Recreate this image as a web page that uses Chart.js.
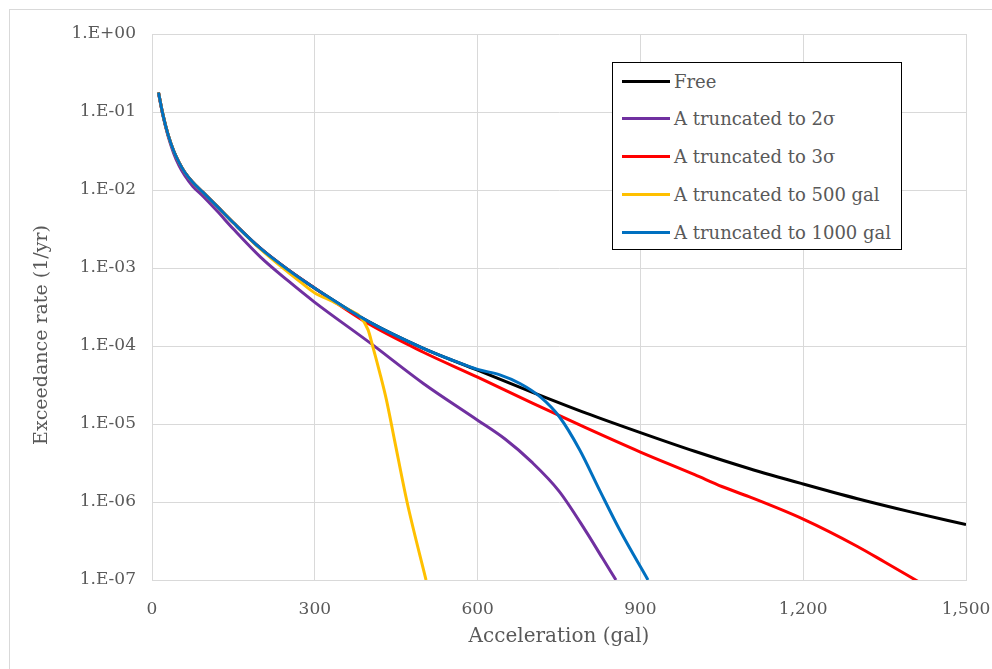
<!DOCTYPE html>
<html>
<head>
<meta charset="utf-8">
<script src="https://cdn.jsdelivr.net/npm/chart.js@4.4.1/dist/chart.umd.min.js"></script>
<style>
  html, body { margin: 0; padding: 0; background: #fff; overflow: hidden; }
  #wrap { position: relative; width: 992px; height: 669px; overflow: hidden; }
  #frame { position: absolute; left: 9px; top: 9px; width: 1100px; height: 800px; border: 1px solid #d9d9d9; }
  #chart { position: absolute; left: 0; top: 0; }
  #legend { position: absolute; left: 612px; top: 62px; width: 290px; height: 188px; border: 1px solid #000;
            background: #fff; box-sizing: border-box; font-family: 'DejaVu Serif'; font-size: 18px; color: #595959; }
  .row { position: absolute; left: 0; height: 24px; margin-top: -12px; display: flex; align-items: center; white-space: nowrap; }
  .swatch { width: 48px; height: 3px; margin-left: 9px; margin-right: 4px; }
</style>
</head>
<body>
<div id="wrap">
  <div id="frame"></div>
  <canvas id="chart" width="992" height="669"></canvas>
  <div id="legend"></div>
</div>
<script>
// Series names / colours (legend order, same as Excel)
const seriesNames = ['Free', 'A truncated to 2σ', 'A truncated to 3σ', 'A truncated to 500 gal', 'A truncated to 1000 gal'];
const seriesColors = ['#000000', '#7030A0', '#FF0000', '#FFC000', '#0070C0'];

// Axis ticks
const accelTicks = [0, 300, 600, 900, 1200, 1500];
const rateTicks = [1, 1e-1, 1e-2, 1e-3, 1e-4, 1e-5, 1e-6, 1e-7];
const rateTickLabels = ['1.E+00', '1.E-01', '1.E-02', '1.E-03', '1.E-04', '1.E-05', '1.E-06', '1.E-07'];
const xTitle = 'Acceleration (gal)';
const yTitle = 'Exceedance rate (1/yr)';

// Free
const accelFree = [12, 20, 30, 40, 50, 60, 75, 94, 120, 150, 200, 250, 300, 400, 500, 600, 700, 800, 900, 1000,
                   1100, 1200, 1300, 1400, 1500];
const rateFree = [0.178, 0.0933, 0.0501, 0.0316, 0.0224, 0.017, 0.0126, 0.00933, 0.00617, 0.0038, 0.00178, 9.55e-4,
                  5.5e-4, 2.04e-4, 9.33e-5, 4.9e-5, 2.57e-5, 1.38e-5, 7.76e-6, 4.47e-6, 2.69e-6, 1.7e-6, 1.1e-6,
                  7.41e-7, 5.13e-7];

// A truncated to 2 sigma
const accel2s = [12, 20, 30, 40, 50, 60, 75, 94, 120, 150, 200, 250, 300, 400, 500, 600, 650, 700, 750, 800, 830, 855];
const rate2s = [0.174, 0.0912, 0.0479, 0.0295, 0.0204, 0.0155, 0.0112, 0.00832, 0.00537, 0.00316, 0.00138, 6.92e-4,
                3.63e-4, 1.12e-4, 3.31e-5, 1.12e-5, 6.46e-6, 3.24e-6, 1.38e-6, 4.17e-7, 1.91e-7, 1.0e-7];

// A truncated to 3 sigma
const accel3s = [12, 20, 30, 40, 50, 60, 75, 94, 120, 150, 200, 250, 300, 400, 500, 600, 700, 800, 900, 1000,
                 1050, 1100, 1200, 1300, 1350, 1412];
const rate3s = [0.178, 0.0933, 0.0501, 0.0316, 0.0224, 0.017, 0.0126, 0.00933, 0.00617, 0.0038, 0.00178, 9.55e-4,
                5.5e-4, 1.91e-4, 8.32e-5, 3.98e-5, 1.86e-5, 8.91e-6, 4.37e-6, 2.24e-6, 1.58e-6, 1.17e-6, 6.03e-7,
                2.69e-7, 1.7e-7, 9.55e-8];

// A truncated to 500 gal
const accel500 = [12, 20, 30, 40, 50, 60, 75, 94, 120, 150, 200, 250, 272, 300, 333, 364, 383, 398, 407, 420, 432,
                  447, 470, 505];
const rate500 = [0.178, 0.0933, 0.0501, 0.0316, 0.0224, 0.017, 0.0126, 0.00933, 0.00617, 0.0038, 0.00174, 8.91e-4,
                 6.76e-4, 4.79e-4, 3.72e-4, 2.88e-4, 2.4e-4, 1.62e-4, 9.77e-5, 4.47e-5, 2.04e-5, 6.17e-6, 1.0e-6, 1.0e-7];

// A truncated to 1000 gal
const accel1000 = [12, 20, 30, 40, 50, 60, 75, 94, 120, 150, 200, 250, 300, 400, 500, 549, 600, 641, 678, 715, 751,
                   788, 825, 862, 914];
const rate1000 = [0.178, 0.0933, 0.0501, 0.0316, 0.0224, 0.017, 0.0126, 0.00933, 0.00617, 0.0038, 0.00178, 9.55e-4,
                  5.5e-4, 2.04e-4, 9.33e-5, 6.76e-5, 5.01e-5, 4.27e-5, 3.31e-5, 2.24e-5, 1.23e-5, 4.68e-6, 1.41e-6,
                  4.37e-7, 1.0e-7];

const seriesX = [accelFree, accel2s, accel3s, accel500, accel1000];
const seriesY = [rateFree, rate2s, rate3s, rate500, rate1000];

const fontFamily = "'DejaVu Serif', serif";
const textColor = '#595959';
const gridColor = '#d9d9d9';

// legend box (HTML, drawn inside plot like Excel)
const legendEl = document.getElementById('legend');
seriesNames.forEach((name, i) => {
  const row = document.createElement('div');
  row.className = 'row';
  row.style.top = (18 + i * 37.8) + 'px';
  row.innerHTML = `<span class="swatch" style="background:${seriesColors[i]}"></span><span>${name}</span>`;
  legendEl.appendChild(row);
});

// axis titles drawn at the spots Excel used
const axisTitles = {
  id: 'axisTitles',
  afterDraw(chart) {
    const ctx = chart.ctx;
    const area = chart.chartArea;
    ctx.save();
    ctx.fillStyle = textColor;
    ctx.textAlign = 'center';
    ctx.textBaseline = 'middle';
    ctx.font = "20px " + fontFamily;
    ctx.fillText(xTitle, (area.left + area.right) / 2, 637);
    ctx.font = "19px " + fontFamily;
    ctx.translate(42, 335);
    ctx.rotate(-Math.PI / 2);
    ctx.fillText(yTitle, 0, 0);
    ctx.restore();
  }
};

// keep the plot box fixed: no extra room for overhanging end labels
const noLabelPadding = (scale) => {
  scale.paddingLeft = 0;
  scale.paddingRight = 0;
  scale.paddingTop = 0;
  scale.paddingBottom = 0;
};

const datasets = seriesNames.map((name, i) => ({
  label: name,
  data: seriesX[i].map((x, j) => ({ x: x, y: seriesY[i][j] })),
  borderColor: seriesColors[i],
  backgroundColor: seriesColors[i],
  borderWidth: 3,
  pointRadius: 0,
  fill: false,
  cubicInterpolationMode: 'monotone',
  order: seriesNames.length - 1 - i   // last series on top, like Excel
}));

new Chart(document.getElementById('chart'), {
  type: 'line',
  data: { datasets: datasets },
  options: {
    responsive: false,
    animation: false,
    layout: { padding: { top: 34, right: 26, bottom: 0, left: 0 } },
    plugins: { legend: { display: false }, tooltip: { enabled: false } },
    scales: {
      x: {
        type: 'linear',
        min: 0,
        max: 1500,
        afterFit: (scale) => { scale.height = 89; noLabelPadding(scale); },
        afterBuildTicks: (scale) => { scale.ticks = accelTicks.map(v => ({ value: v })); },
        grid: { color: gridColor, drawTicks: false },
        border: { color: gridColor },
        ticks: {
          autoSkip: false,
          maxRotation: 0,
          padding: 19,
          color: textColor,
          font: { family: fontFamily, size: 17 },
          callback: (v) => v.toLocaleString('en-US')
        }
      },
      y: {
        type: 'logarithmic',
        min: 1e-7,
        max: 1,
        afterFit: (scale) => { scale.width = 152; noLabelPadding(scale); },
        afterBuildTicks: (scale) => { scale.ticks = rateTicks.map(v => ({ value: v })); },
        grid: { color: gridColor, drawTicks: false },
        border: { color: gridColor },
        ticks: {
          autoSkip: false,
          padding: 16,
          color: textColor,
          font: { family: fontFamily, size: 17 },
          callback: (v) => {
            const i = rateTicks.indexOf(v);
            return i >= 0 ? rateTickLabels[i] : '';
          }
        }
      }
    }
  },
  plugins: [axisTitles]
});
</script>
</body>
</html>
